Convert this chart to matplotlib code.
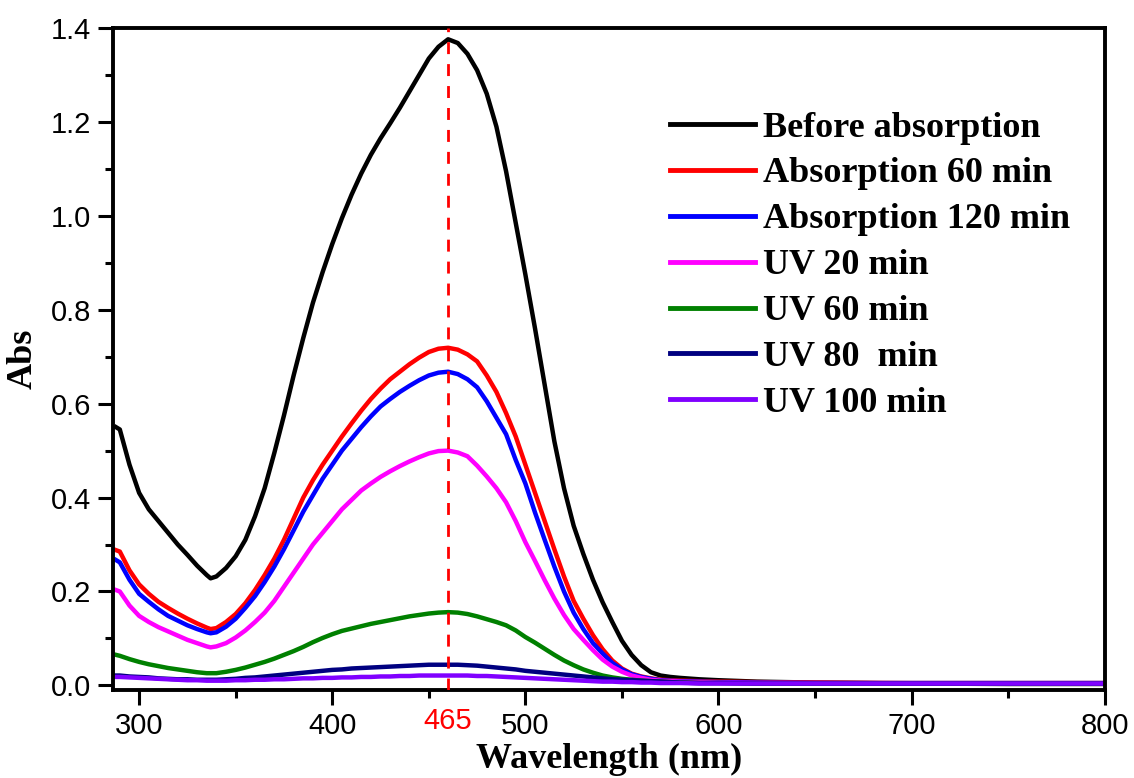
import matplotlib.pyplot as plt
from matplotlib.ticker import MultipleLocator

# wavelengths (nm), values
wl = [288, 290, 295, 300, 305, 310, 315, 320, 325, 330, 335, 337,
      340, 345, 350, 355, 360, 365, 370, 375, 380, 385, 390, 395,
      400, 405, 410, 415, 420, 425, 430, 435, 440, 445, 450, 455,
      460, 465, 470, 475, 480, 485, 490, 495, 500, 505, 510, 515,
      520, 525, 530, 535, 540, 545, 550, 555, 560, 565, 570, 575,
      580, 590, 600, 620, 650, 700, 750, 800]

before = [0.55, 0.545, 0.47, 0.41, 0.375, 0.35, 0.325, 0.30, 0.278, 0.255, 0.235, 0.228,
          0.232, 0.25, 0.275, 0.31, 0.36, 0.42, 0.495, 0.575, 0.66, 0.74, 0.815, 0.88,
          0.94, 0.995, 1.045, 1.09, 1.13, 1.165, 1.197, 1.23, 1.265, 1.30, 1.335, 1.36,
          1.376, 1.368, 1.345, 1.31, 1.26, 1.19, 1.095, 0.985, 0.875, 0.76, 0.64, 0.52,
          0.42, 0.34, 0.28, 0.225, 0.177, 0.135, 0.095, 0.065, 0.043, 0.028, 0.021, 0.018,
          0.016, 0.013, 0.011, 0.008, 0.006, 0.004, 0.003, 0.003]
abs60 = [0.288, 0.285, 0.245, 0.215, 0.195, 0.178, 0.165, 0.153, 0.142, 0.132, 0.123, 0.12,
         0.122, 0.135, 0.152, 0.175, 0.203, 0.235, 0.27, 0.31, 0.355, 0.40, 0.437, 0.47,
         0.50, 0.53, 0.558, 0.585, 0.61, 0.632, 0.652, 0.668, 0.684, 0.698, 0.71, 0.717,
         0.719, 0.715, 0.705, 0.69, 0.66, 0.625, 0.58, 0.53, 0.47, 0.41, 0.35, 0.29,
         0.232, 0.18, 0.142, 0.107, 0.077, 0.053, 0.036, 0.025, 0.019, 0.015, 0.012, 0.011,
         0.010, 0.009, 0.008, 0.007, 0.006, 0.005, 0.005, 0.005]
abs120 = [0.267, 0.262, 0.225, 0.195, 0.178, 0.162, 0.148, 0.138, 0.128, 0.12, 0.113, 0.111,
          0.113, 0.125, 0.142, 0.165, 0.19, 0.22, 0.253, 0.29, 0.33, 0.37, 0.405, 0.44,
          0.47, 0.50, 0.525, 0.55, 0.573, 0.594, 0.61, 0.625, 0.638, 0.65, 0.66, 0.666,
          0.668, 0.663, 0.652, 0.635, 0.605, 0.57, 0.535, 0.48, 0.43, 0.368, 0.31, 0.253,
          0.20, 0.155, 0.12, 0.09, 0.068, 0.048, 0.034, 0.024, 0.018, 0.014, 0.011, 0.01,
          0.009, 0.008, 0.007, 0.006, 0.005, 0.005, 0.005, 0.005]
uv20 = [0.203, 0.20, 0.17, 0.148, 0.135, 0.124, 0.115, 0.106, 0.097, 0.09, 0.083, 0.081,
        0.083, 0.09, 0.102, 0.117, 0.135, 0.155, 0.18, 0.21, 0.24, 0.27, 0.30, 0.325,
        0.35, 0.375, 0.395, 0.415, 0.43, 0.444, 0.456, 0.467, 0.477, 0.486, 0.494, 0.499,
        0.50, 0.496, 0.488, 0.468, 0.445, 0.42, 0.39, 0.35, 0.305, 0.265, 0.224, 0.185,
        0.15, 0.12, 0.097, 0.075, 0.055, 0.04, 0.029, 0.021, 0.016, 0.012, 0.01, 0.009,
        0.008, 0.007, 0.006, 0.005, 0.005, 0.004, 0.004, 0.004]
uv60 = [0.065, 0.063, 0.056, 0.05, 0.045, 0.041, 0.037, 0.034, 0.031, 0.028, 0.026, 0.026,
        0.026, 0.029, 0.033, 0.038, 0.044, 0.05, 0.057, 0.065, 0.073, 0.082, 0.092, 0.101,
        0.109, 0.116, 0.121, 0.126, 0.131, 0.135, 0.139, 0.143, 0.147, 0.15, 0.153, 0.155,
        0.156, 0.155, 0.152, 0.147, 0.141, 0.135, 0.128, 0.117, 0.103, 0.091, 0.078, 0.065,
        0.053, 0.043, 0.034, 0.027, 0.021, 0.017, 0.014, 0.012, 0.01, 0.009, 0.008, 0.007,
        0.006, 0.005, 0.005, 0.004, 0.004, 0.004, 0.004, 0.004]
uv80 = [0.021, 0.021, 0.019, 0.018, 0.017, 0.015, 0.014, 0.013, 0.013, 0.012, 0.012, 0.012,
        0.012, 0.013, 0.014, 0.016, 0.017, 0.019, 0.021, 0.023, 0.025, 0.027, 0.029, 0.031,
        0.033, 0.034, 0.036, 0.037, 0.038, 0.039, 0.04, 0.041, 0.042, 0.043, 0.044, 0.044,
        0.044, 0.044, 0.043, 0.042, 0.04, 0.038, 0.036, 0.034, 0.031, 0.029, 0.027, 0.025,
        0.023, 0.021, 0.019, 0.017, 0.015, 0.013, 0.012, 0.011, 0.01, 0.009, 0.008, 0.007,
        0.006, 0.005, 0.005, 0.004, 0.004, 0.004, 0.004, 0.004]
uv100 = [0.018, 0.018, 0.017, 0.016, 0.015, 0.014, 0.013, 0.012, 0.011, 0.011, 0.01, 0.01,
         0.01, 0.01, 0.011, 0.011, 0.012, 0.012, 0.013, 0.013, 0.014, 0.015, 0.015, 0.016,
         0.016, 0.017, 0.017, 0.018, 0.018, 0.019, 0.019, 0.02, 0.02, 0.021, 0.021, 0.021,
         0.021, 0.021, 0.021, 0.02, 0.02, 0.019, 0.018, 0.017, 0.016, 0.015, 0.014, 0.013,
         0.012, 0.011, 0.01, 0.009, 0.008, 0.008, 0.007, 0.007, 0.006, 0.006, 0.005, 0.005,
         0.005, 0.004, 0.004, 0.004, 0.004, 0.004, 0.004, 0.004]

labels = ['Before absorption', 'Absorption 60 min', 'Absorption 120 min',
          'UV 20 min', 'UV 60 min', 'UV 80  min', 'UV 100 min']
colors = ['black', '#ff0000', '#0000ff', '#ff00ff', '#008000', '#000080', '#8000ff']
series = [before, abs60, abs120, uv20, uv60, uv80, uv100]

peak_x = 460
peak_label = '465'

fig = plt.figure(figsize=(11.34, 7.78), dpi=100)
ax = fig.add_axes([0.0997, 0.113, 0.8745, 0.851])

for s, c, lab in zip(series, colors, labels):
    ax.plot(wl, s, color=c, lw=3.2, label=lab, solid_joinstyle='round')

ax.axvline(peak_x, color='#ff0000', lw=2, dashes=(4.3, 3.6), zorder=5)

ax.set_xlim(286.5, 800)
ax.set_ylim(-0.01, 1.4)

ax.set_xticks([300, 400, 500, 600, 700, 800])
ax.xaxis.set_minor_locator(MultipleLocator(50))
ax.yaxis.set_major_locator(MultipleLocator(0.2))
ax.yaxis.set_minor_locator(MultipleLocator(0.1))
ax.set_yticklabels([f'{v:.1f}' for v in ax.get_yticks()])

ax.tick_params(which='major', direction='out', length=11, width=2.2,
               labelsize=21, pad=5, top=False, right=False)
ax.tick_params(which='minor', direction='out', length=6, width=2.2,
               top=False, right=False)
for lab in ax.get_xticklabels() + ax.get_yticklabels():
    lab.set_fontfamily('Liberation Sans')

for sp in ax.spines.values():
    sp.set_linewidth(2.8)

ax.text(peak_x, -0.045, peak_label, color='#ff0000', fontsize=21,
        family='Liberation Sans', ha='center', va='top')

ax.set_xlabel('Wavelength (nm)', family='Liberation Serif', fontweight='bold',
              fontsize=26, labelpad=2)
ax.set_ylabel('Abs', family='Liberation Serif', fontweight='bold',
              fontsize=26, labelpad=8)

leg = ax.legend(loc='upper left', bbox_to_anchor=(0.591, 0.857),
                bbox_transform=fig.transFigure, frameon=False,
                prop={'family': 'Liberation Serif', 'weight': 'bold', 'size': 26},
                handlelength=2.35, handletextpad=0.22, labelspacing=0.35,
                borderpad=0, borderaxespad=0)
for line in leg.get_lines():
    line.set_linewidth(3.5)

fig.savefig('out.png', dpi=100)
